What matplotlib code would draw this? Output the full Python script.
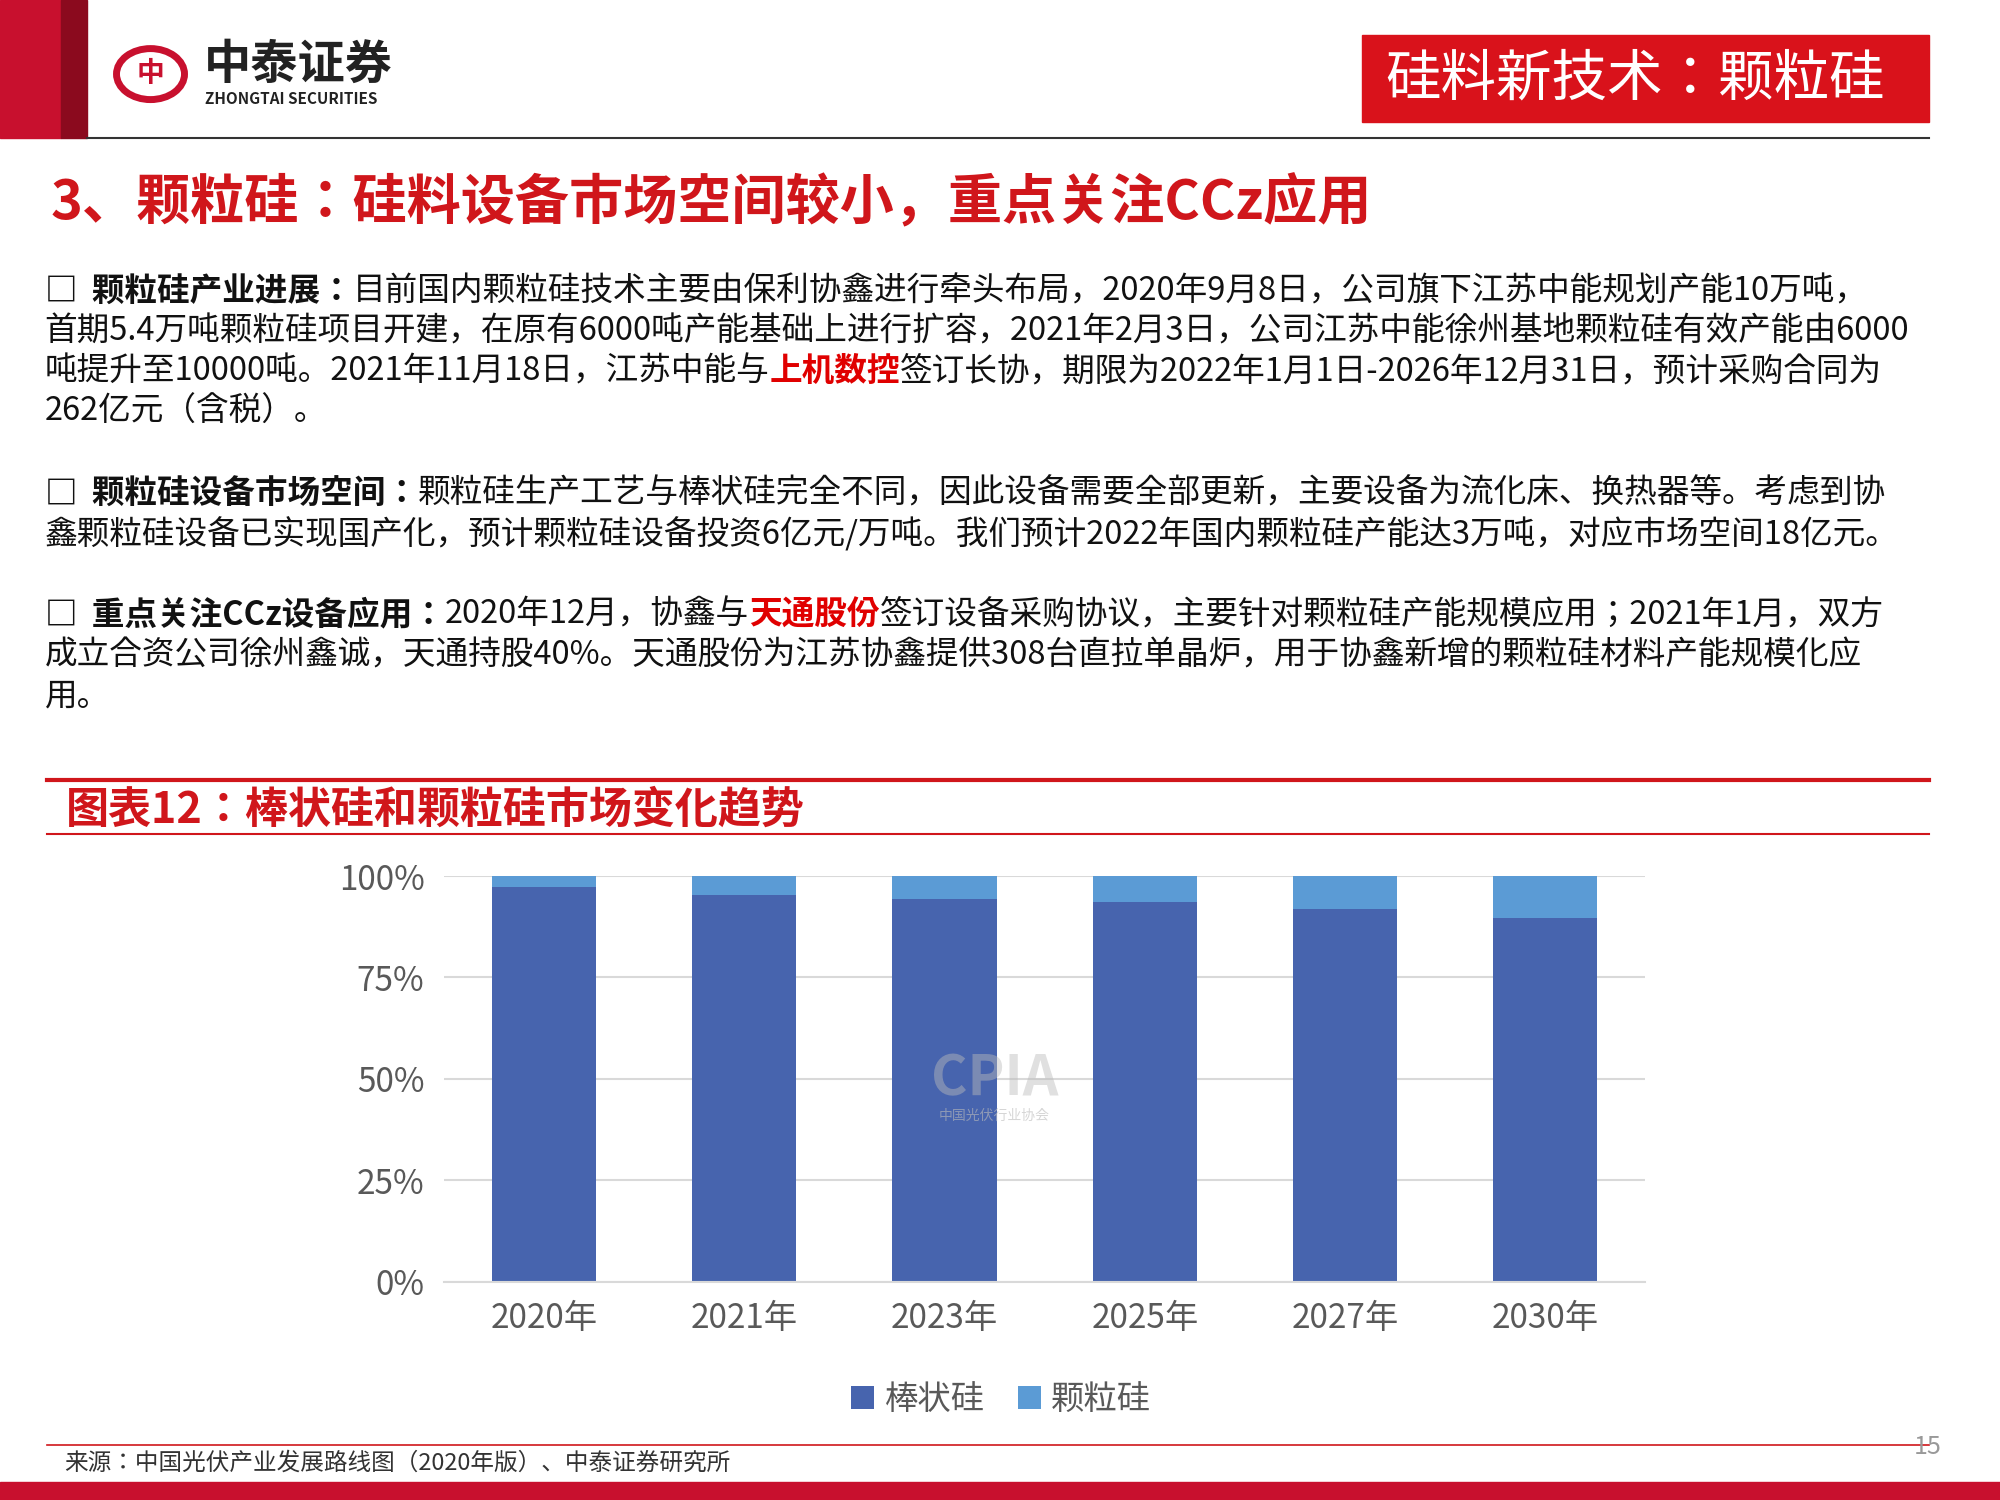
import matplotlib.pyplot as plt
from matplotlib import font_manager
from matplotlib.patches import Rectangle, Circle

names = {f.name for f in font_manager.fontManager.ttflist}
cjk = [n for n in ["Noto Sans CJK SC", "Noto Sans CJK JP", "Noto Sans CJK TC", "Noto Sans CJK KR",
                   "Noto Sans SC", "Noto Sans CJK"] if n in names]
cjk += sorted(n for n in names if "CJK" in n and n not in cjk)
plt.rcParams["font.family"] = cjk + ["DejaVu Sans"]

# data
years = ["2020年", "2021年", "2023年", "2025年", "2027年", "2030年"]
granular = [2.8, 4.6, 5.7, 6.4, 8.0, 10.3]
rod = [100 - g for g in granular]
y_ticks = [0, 25, 50, 75, 100]
y_tick_labels = ["0%", "25%", "50%", "75%", "100%"]

W, H = 1568, 1154  # reference layout units


def fx(x):
    return x / W


def fy(y):
    return 1 - y / H


fig = plt.figure(figsize=(20, 15), dpi=100)
fig.patch.set_facecolor("white")


def rect(x0, y0, x1, y1, color, **kw):
    fig.patches.append(Rectangle((fx(x0), fy(y1)), fx(x1) - fx(x0), fy(y0) - fy(y1),
                                 transform=fig.transFigure, color=color, **kw))


def line(x0, x1, y, color, lw):
    fig.add_artist(plt.Line2D([fx(x0), fx(x1)], [fy(y), fy(y)], transform=fig.transFigure,
                              color=color, lw=lw))


def segments(x, y, parts, size):
    # draw text pieces one after another, each with its own colour/weight
    r = fig.canvas.get_renderer()
    cx = fx(x)
    for s, c, w in parts:
        t = fig.text(cx, fy(y), s, color=c, fontsize=size, fontweight=w, va="center", ha="left")
        bb = t.get_window_extent(renderer=r)
        cx += bb.width / fig.bbox.width


# header
rect(0, 0, 48, 106, "#C8102E")
rect(48, 0, 68, 106, "#8B0A1E")
fig.patches.append(Circle((fx(118), fy(57)), 0.017, transform=fig.transFigure,
                          fill=False, ec="#C8102E", lw=5))
fig.text(fx(118), fy(57), "中", fontsize=20, color="#C8102E", ha="center", va="center", fontweight="bold")
fig.text(fx(160), fy(50), "中泰证券", fontsize=34, fontweight="bold", color="#222222", va="center")
fig.text(fx(161), fy(76), "ZHONGTAI SECURITIES", fontsize=11, fontweight="bold", color="#222222", va="center")
rect(1068, 27, 1512, 94, "#D9121B")
fig.text(fx(1282), fy(61), "硅料新技术：颗粒硅", fontsize=40, color="white", ha="center", va="center")
line(68, 1512, 106, "#333333", 1.5)

fig.text(fx(40), fy(157), "3、颗粒硅：硅料设备市场空间较小，重点关注CCz应用", fontsize=39,
         fontweight="bold", color="#D0161B", va="center")

K = "#111111"
fs = 23.5
segments(35, 224, [("□", K, "bold"), ("  颗粒硅产业进展：", K, "bold"),
                   ("目前国内颗粒硅技术主要由保利协鑫进行牵头布局，2020年9月8日，公司旗下江苏中能规划产能10万吨，", K, "normal")], fs)
segments(35, 255, [("首期5.4万吨颗粒硅项目开建，在原有6000吨产能基础上进行扩容，2021年2月3日，公司江苏中能徐州基地颗粒硅有效产能由6000", K, "normal")], fs)
segments(35, 286, [("吨提升至10000吨。2021年11月18日，江苏中能与", K, "normal"), ("上机数控", "#E00000", "bold"),
                   ("签订长协，期限为2022年1月1日-2026年12月31日，预计采购合同为", K, "normal")], fs)
segments(35, 317, [("262亿元（含税）。", K, "normal")], fs)
segments(35, 380, [("□", K, "bold"), ("  颗粒硅设备市场空间：", K, "bold"),
                   ("颗粒硅生产工艺与棒状硅完全不同，因此设备需要全部更新，主要设备为流化床、换热器等。考虑到协", K, "normal")], fs)
segments(35, 411, [("鑫颗粒硅设备已实现国产化，预计颗粒硅设备投资6亿元/万吨。我们预计2022年国内颗粒硅产能达3万吨，对应市场空间18亿元。", K, "normal")], fs)
segments(35, 473, [("□", K, "bold"), ("  重点关注CCz设备应用：", K, "bold"), ("2020年12月，协鑫与", K, "normal"),
                   ("天通股份", "#E00000", "bold"),
                   ("签订设备采购协议，主要针对颗粒硅产能规模应用；2021年1月，双方", K, "normal")], fs)
segments(35, 504, [("成立合资公司徐州鑫诚，天通持股40%。天通股份为江苏协鑫提供308台直拉单晶炉，用于协鑫新增的颗粒硅材料产能规模化应", K, "normal")], fs)
segments(35, 536, [("用。", K, "normal")], fs)

# chart title band
line(37, 1512, 600, "#D0161B", 3)
line(37, 1512, 642, "#D0161B", 1.5)
fig.text(fx(52), fy(623), "图表12：棒状硅和颗粒硅市场变化趋势", fontsize=31, color="#D0161B",
         fontweight="bold", style="italic", va="center")

# chart
ax = fig.add_axes([fx(348), fy(986), fx(1290) - fx(348), fy(674) - fy(986)])
x = range(len(years))
ax.bar(x, rod, width=0.52, color="#4764AE", label="棒状硅", zorder=2)
ax.bar(x, granular, bottom=rod, width=0.52, color="#5B9BD5", label="颗粒硅", zorder=2)
ax.set_ylim(0, 100)
ax.set_xlim(-0.5, len(years) - 0.5)
ax.set_yticks(y_ticks)
ax.set_yticklabels(y_tick_labels)
ax.set_xticks(list(x))
ax.set_xticklabels(years)
ax.yaxis.grid(True, color="#D9D9D9", lw=1.5, zorder=0)
for s in ["top", "right", "left"]:
    ax.spines[s].set_visible(False)
ax.spines["bottom"].set_color("#D9D9D9")
ax.spines["bottom"].set_linewidth(1.5)
ax.tick_params(length=0, labelsize=24, colors="#595959", pad=14)
ax.text(2.25, 50, "CPIA", fontsize=40, fontweight="bold", color="#BBBBBB", alpha=0.45,
        ha="center", va="center", zorder=3)
ax.text(2.25, 40, "中国光伏行业协会", fontsize=10, color="#BBBBBB", alpha=0.6, ha="center", zorder=3)
fig.legend(loc="center", bbox_to_anchor=(fx(785), fy(1077)), ncol=2, frameon=False,
           fontsize=24, handlelength=0.7, handleheight=0.7, columnspacing=1.0, handletextpad=0.3,
           labelcolor="#595959")

# footer
line(37, 1512, 1112, "#D0161B", 1.2)
fig.text(fx(50), fy(1126), "来源：中国光伏产业发展路线图（2020年版）、中泰证券研究所", fontsize=17,
         color="#333333", va="center")
fig.text(fx(1522), fy(1113), "15", fontsize=18, color="#999999", ha="right", va="center")
rect(0, 1140, 1568, 1154, "#C8102E")

fig.savefig("out.png", dpi=100)
